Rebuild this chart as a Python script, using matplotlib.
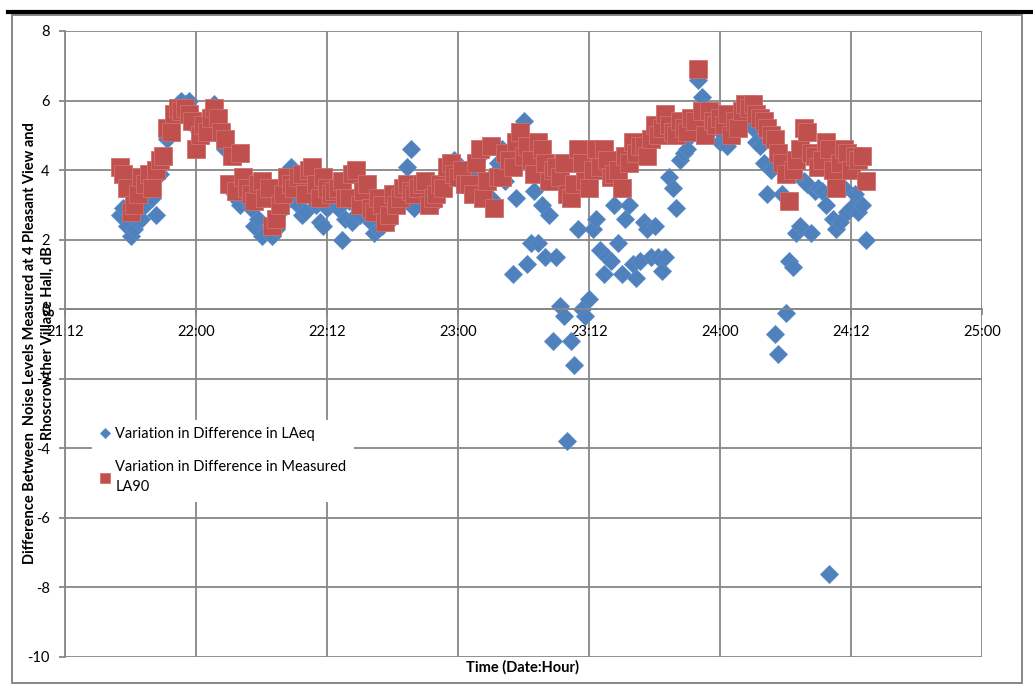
import numpy as np
import matplotlib
matplotlib.use("Agg")
import matplotlib.pyplot as plt
from matplotlib.lines import Line2D
from matplotlib.patches import Rectangle

# readings every 20 minutes, time counted in hours from day 21 12:00
start_hour = 5.0
step_hour = 1.0 / 3.0

# difference in LAeq between the two sites, dB
laeq_diff = [
    2.7, 2.9, 2.4, 2.1, 2.3, 2.5, 2.6, 3.0, 3.4, 3.2, 2.7, 3.9,
    4.4, 4.9, 5.3, 5.7, 5.9, 6.0, 5.9, 6.0, 5.6, 5.2, 4.9, 5.1,
    5.4, 5.7, 5.9, 5.5, 5.0, 4.6, 3.5, 3.4, 3.2, 3.0, 3.4, 3.1,
    2.9, 2.4, 2.6, 2.1, 3.2, 3.5, 2.1, 2.3, 2.8, 3.0, 3.6, 4.1,
    3.3, 3.0, 2.7, 2.8, 3.5, 3.7, 3.0, 2.5, 2.4, 2.9, 3.2, 3.1,
    2.9, 2.0, 2.6, 3.1, 2.5, 2.7, 2.7, 3.0, 2.8, 2.5, 2.2, 2.3,
    2.4, 2.8, 2.5, 3.1, 3.4, 3.3, 3.5, 4.1, 4.6, 2.9, 3.3, 3.2,
    3.5, 3.2, 3.0, 3.4, 3.6, 3.5, 3.8, 4.1, 4.3, 3.9, 3.6, 3.7,
    3.7, 4.0, 3.8, 3.5, 4.5, 4.6, 3.2, 3.9, 4.2, 4.6, 3.7, 4.5,
    1.0, 3.2, 5.0, 5.4, 1.3, 1.9, 3.4, 1.9, 3.0, 1.5, 2.7, -0.9,
    1.5, 0.1, -0.2, -3.8, -0.9, -1.6, 2.3, 0.0, -0.2, 0.3, 2.3, 2.6,
    1.7, 1.0, 1.5, 1.4, 3.0, 1.9, 1.0, 2.6, 3.0, 1.3, 0.9, 1.4,
    2.5, 2.3, 1.5, 2.4, 1.5, 1.1, 1.5, 3.8, 3.5, 2.9, 4.3, 4.5,
    4.6, 5.0, 5.2, 6.6, 6.1, 5.8, 5.5, 5.2, 5.4, 4.8, 5.0, 4.7,
    5.0, 5.3, 5.2, 5.4, 5.6, 5.5, 5.2, 4.8, 4.7, 4.2, 3.3, 4.0,
    -0.7, -1.3, 3.3, -0.1, 1.4, 1.2, 2.2, 2.4, 3.7, 3.6, 2.2, 3.4,
    3.5, 3.4, 3.0, -7.6, 2.6, 2.3, 2.5, 3.5, 2.8, 2.9, 3.3, 2.8,
    3.0, 2.0,
]

# difference in measured LA90 between the two sites, dB
la90_diff = [
    4.1, 3.9, 3.5, 2.8, 3.0, 3.3, 3.8, 3.6, 3.9, 3.5, 4.0, 4.3,
    4.4, 5.2, 5.1, 5.6, 5.8, 5.7, 5.8, 5.6, 5.4, 4.6, 5.0, 5.3,
    5.1, 5.5, 5.8, 5.5, 5.1, 4.9, 3.6, 4.4, 3.4, 4.5, 3.8, 3.5,
    3.3, 3.1, 3.6, 3.7, 3.2, 3.5, 2.4, 2.6, 3.0, 3.3, 3.8, 3.6,
    3.5, 3.8, 3.9, 3.3, 4.0, 4.1, 3.6, 3.2, 3.8, 3.5, 3.3, 3.4,
    3.5, 3.7, 3.2, 3.2, 3.9, 4.0, 3.0, 3.4, 3.6, 2.9, 2.8, 3.2,
    3.0, 2.5, 2.7, 3.3, 3.0, 3.2, 3.5, 3.6, 3.4, 3.3, 3.5, 3.6,
    3.7, 3.0, 3.2, 3.3, 3.6, 3.5, 4.1, 4.2, 3.9, 3.8, 4.0, 3.6,
    3.6, 3.3, 4.2, 4.6, 3.2, 3.7, 4.7, 2.9, 3.8, 3.8, 4.5, 4.3,
    4.1, 4.8, 5.1, 4.4, 4.7, 4.3, 3.9, 4.8, 4.6, 4.2, 3.7, 4.0,
    4.1, 3.8, 4.2, 3.3, 3.2, 3.6, 4.6, 4.2, 3.7, 3.5, 4.0, 4.6,
    4.1, 4.6, 4.3, 3.8, 3.9, 4.0, 3.5, 4.4, 4.2, 4.8, 4.5, 4.7,
    4.7, 4.4, 4.9, 5.3, 5.0, 5.2, 5.6, 5.3, 5.1, 5.0, 5.4, 5.2,
    5.1, 5.5, 5.4, 6.9, 5.7, 5.0, 5.7, 5.4, 5.3, 5.5, 5.3, 5.6,
    5.0, 5.4, 5.2, 5.7, 5.9, 5.8, 5.9, 5.6, 5.5, 5.4, 5.2, 5.0,
    4.9, 4.5, 4.2, 3.9, 3.1, 4.0, 4.3, 4.6, 5.2, 5.1, 4.5, 4.4,
    4.1, 4.3, 4.8, 4.6, 4.0, 3.5, 4.2, 4.6, 4.5, 4.0, 4.4, 4.3,
    4.4, 3.7,
]

tick_hours = [0, 12, 24, 36, 48, 60, 72, 84]
tick_labels = ["21:12", "22:00", "22:12", "23:00", "23:12", "24:00", "24:12", "25:00"]
y_ticks = [8, 6, 4, 2, 0, -2, -4, -6, -8, -10]

blue = "#4F81BD"
red = "#C0504D"
grid_col = "#878787"

plt.rcParams["font.family"] = ["Lato", "DejaVu Sans"]

t_laeq = start_hour + step_hour * np.arange(len(laeq_diff))
t_la90 = start_hour + step_hour * np.arange(len(la90_diff))

fig = plt.figure(figsize=(10.33, 6.89), dpi=100)
ax = fig.add_axes([65 / 1033, 1 - 657 / 689, (982 - 65) / 1033, (657 - 31) / 689])

# grid drawn by hand so the tick labels stay above the markers
for h in tick_hours:
    ax.axvline(h, color=grid_col, lw=1.3, zorder=0)
for v in y_ticks:
    ax.axhline(v, color=grid_col, lw=1.3, zorder=0)

ax.plot(t_laeq, laeq_diff, ls="none", marker="D", ms=9.4, color=blue,
        mec="#5B8CC6", mew=0.6, label="Variation in Difference in LAeq", zorder=2)
ax.plot(t_la90, la90_diff, ls="none", marker="s", ms=12.8, color=red,
        mec="#D0706D", mew=0.6, label="Variation in Difference in Measured\nLA90", zorder=2.1)

ax.set_xlim(0, 84)
ax.set_ylim(-10, 8)
ax.set_xticks(tick_hours)
ax.set_xticklabels(tick_labels)
ax.set_yticks(y_ticks)
ax.set_yticklabels([str(v) for v in y_ticks])

for s in ["top", "right"]:
    ax.spines[s].set_visible(False)
ax.spines["left"].set_color(grid_col)
ax.spines["left"].set_linewidth(1.3)
ax.spines["bottom"].set_position(("data", 0))
ax.spines["bottom"].set_color(grid_col)
ax.spines["bottom"].set_linewidth(1.3)
ax.tick_params(axis="y", length=4, width=1.3, color=grid_col, pad=7, labelsize=10.5)
ax.tick_params(axis="x", length=4, width=1.3, color=grid_col, pad=7, labelsize=10.5)

leg = ax.legend(loc="upper left", bbox_to_anchor=(92 / 1033, 1 - 420 / 689),
                bbox_transform=fig.transFigure, borderaxespad=0, frameon=True,
                fancybox=False, framealpha=1, edgecolor="none", facecolor="white",
                fontsize=10.5, markerscale=0.55, handlelength=0.8, handletextpad=0.3,
                labelspacing=1.3, borderpad=0.5)
for txt in leg.get_texts():
    txt.set_linespacing(1.55)
leg.set_zorder(3)

fig.text(39 / 1033, 1 - 343 / 689,
         "Difference Between  Noise Levels Measured at 4 Pleasant View and\n"
         "Rhoscrowther Village Hall, dB",
         rotation=90, ha="center", va="center", multialignment="center",
         linespacing=1.45, fontsize=10.5, fontweight="bold")
fig.text(523 / 1033, 1 - 667 / 689, "Time (Date:Hour)", ha="center", va="center",
         fontsize=10.5, fontweight="bold")

# chart frame and the page rule above it
fig.add_artist(Rectangle((12 / 1033, 1 - 683 / 689), (1022 - 12) / 1033, (683 - 15) / 689,
                         transform=fig.transFigure, fill=False, ec=grid_col, lw=1.4))
fig.add_artist(Line2D([8 / 1033, 1.0], [1 - 12 / 689, 1 - 12 / 689],
                      transform=fig.transFigure, color="black", lw=3))

fig.savefig("out.png", dpi=100)
